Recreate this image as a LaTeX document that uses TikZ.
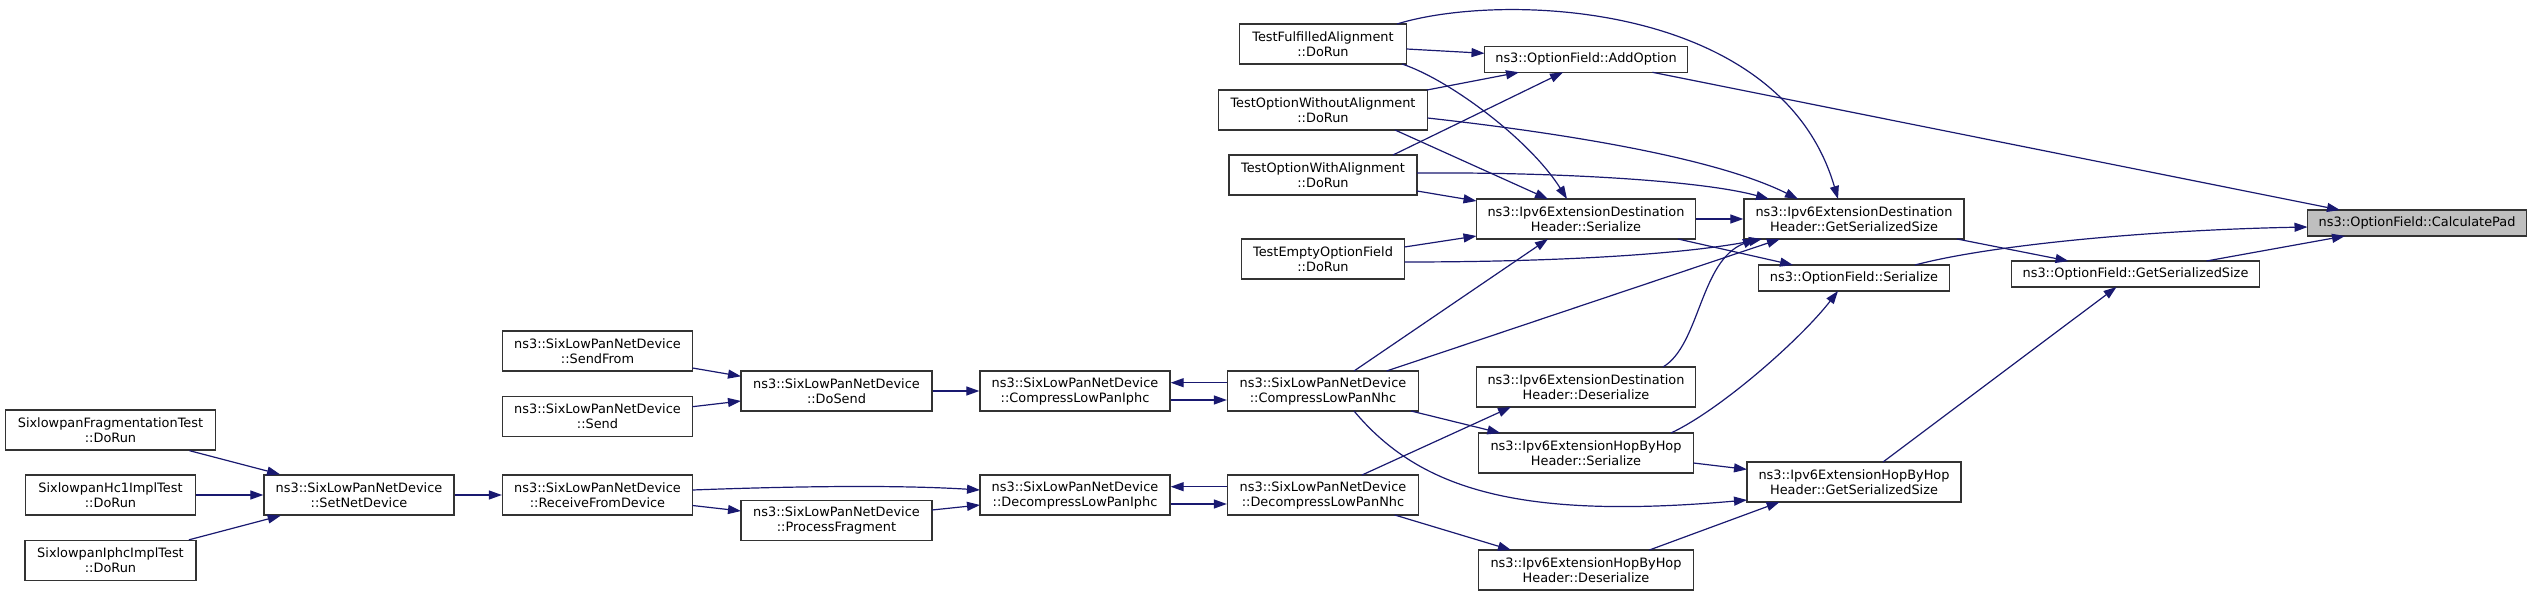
\documentclass[tikz,border=0pt]{standalone}
\usepackage{fontspec}
\setmainfont{DejaVu Sans}
\usetikzlibrary{arrows.meta,calc}
\definecolor{edgec}{RGB}{25,25,112}
\definecolor{padfill}{RGB}{191,191,191}
\begin{document}
\begin{tikzpicture}[x=1pt,y=-1pt,
  fn/.style={draw=black!80, line width=1.3pt, fill=white, inner sep=0pt, align=center,
    font=\fontsize{12.9}{15}\selectfont, minimum height=40pt},
  fn1/.style={fn, minimum height=26pt},
  edge/.style={draw=edgec, line width=1.2pt, -{Triangle[length=13pt,width=9pt]}},
]
\useasboundingbox (0,0) rectangle (2532,596);
% nodes
\node[fn, minimum width=167pt] (fdo) at (1323,44) {TestFulfilledAlignment\\::DoRun};
\node[fn1, minimum width=203pt] (addopt) at (1586,59.3) {ns3::OptionField::AddOption};
\node[fn, minimum width=209pt] (wodo) at (1323,110) {TestOptionWithoutAlignment\\::DoRun};
\node[fn, minimum width=188pt] (wado) at (1323,175) {TestOptionWithAlignment\\::DoRun};
\node[fn, minimum width=219pt] (dser) at (1586,219) {ns3::Ipv6ExtensionDestination\\Header::Serialize};
\node[fn, minimum width=163pt] (edo) at (1323,259) {TestEmptyOptionField\\::DoRun};
\node[fn, minimum width=220pt] (dgss) at (1854,219) {ns3::Ipv6ExtensionDestination\\Header::GetSerializedSize};
\node[fn1, minimum width=191pt] (ofser) at (1854,278) {ns3::OptionField::Serialize};
\node[fn1, minimum width=248pt] (ofgss) at (2135.5,274) {ns3::OptionField::GetSerializedSize};
\node[fn1, minimum width=219pt, fill=padfill] (calcpad) at (2417,223) {ns3::OptionField::CalculatePad};
\node[fn, minimum width=214pt] (hgss) at (1854,482) {ns3::Ipv6ExtensionHopByHop\\Header::GetSerializedSize};
\node[fn, minimum width=190pt] (cliphc) at (1075,391) {ns3::SixLowPanNetDevice\\::CompressLowPanIphc};
\node[fn, minimum width=191pt] (cnhc) at (1323,391) {ns3::SixLowPanNetDevice\\::CompressLowPanNhc};
\node[fn, minimum width=219pt] (ddeser) at (1586,387) {ns3::Ipv6ExtensionDestination\\Header::Deserialize};
\node[fn, minimum width=215pt] (hser) at (1586,453) {ns3::Ipv6ExtensionHopByHop\\Header::Serialize};
\node[fn, minimum width=190pt] (dliphc) at (1075,495) {ns3::SixLowPanNetDevice\\::DecompressLowPanIphc};
\node[fn, minimum width=191pt] (dlnhc) at (1323,495) {ns3::SixLowPanNetDevice\\::DecompressLowPanNhc};
\node[fn, minimum width=215pt] (hdeser) at (1586,570) {ns3::Ipv6ExtensionHopByHop\\Header::Deserialize};
\node[fn, minimum width=190pt] (sendfrom) at (597.5,351) {ns3::SixLowPanNetDevice\\::SendFrom};
\node[fn, minimum width=190pt] (send) at (597.5,416.5) {ns3::SixLowPanNetDevice\\::Send};
\node[fn, minimum width=191pt] (dosend) at (836.5,391) {ns3::SixLowPanNetDevice\\::DoSend};
\node[fn, minimum width=190pt] (recv) at (597.5,495) {ns3::SixLowPanNetDevice\\::ReceiveFromDevice};
\node[fn, minimum width=191pt] (procfrag) at (836.5,520.5) {ns3::SixLowPanNetDevice\\::ProcessFragment};
\node[fn, minimum width=190pt] (setnet) at (359,495) {ns3::SixLowPanNetDevice\\::SetNetDevice};
\node[fn, minimum width=210pt] (fragtest) at (110.5,430) {SixlowpanFragmentationTest\\::DoRun};
\node[fn, minimum width=170pt] (hc1) at (110.5,495) {SixlowpanHc1ImplTest\\::DoRun};
\node[fn, minimum width=171pt] (iphctest) at (110.5,560.5) {SixlowpanIphcImplTest\\::DoRun};
% edges into CalculatePad
\draw[edge] ($(addopt.center)+(66.5,13)$) -- ($(calcpad.center)+(-77,-13)$);
\draw[edge] ($(ofser.center)+(61,-13)$) .. controls (1990,245) and (2150,230) .. ($(calcpad.center)+(-109.5,4)$);
\draw[edge] ($(ofgss.center)+(71,-13)$) -- ($(calcpad.center)+(-72,13)$);
% into OptionField::GetSerializedSize
\draw[edge] ($(dgss.center)+(103,20)$) -- ($(ofgss.center)+(-67,-13)$);
\draw[edge] ($(hgss.center)+(29,-20)$) -- ($(ofgss.center)+(-19,13)$);
% into Destination GetSerializedSize
\draw[edge] ($(fdo.center)+(74,-20)$) .. controls (1500,-8) and (1780,0) .. ($(dgss.center)+(-16,-20)$);
\draw[edge] ($(wodo.center)+(104.5,8)$) .. controls (1580,135) and (1720,160) .. ($(dgss.center)+(-56,-20)$);
\draw[edge] ($(wado.center)+(94,-2)$) .. controls (1550,172) and (1700,180) .. ($(dgss.center)+(-85,-20)$);
\draw[edge] (dser.east) -- (dgss.west);
\draw[edge] ($(edo.center)+(81.5,3)$) .. controls (1550,262) and (1680,255) .. ($(dgss.center)+(-92,20)$);
\draw[edge] ($(cnhc.center)+(63.6,-20)$) -- ($(dgss.center)+(-74,20)$);
\draw[edge] ($(ddeser.center)+(77,-20)$) .. controls (1700,345) and (1700,260) .. ($(dgss.center)+(-98,20)$);
% into Destination Serialize
\draw[edge] ($(fdo.center)+(79,20)$) .. controls (1450,80) and (1530,140) .. ($(dser.center)+(-19,-20)$);
\draw[edge] ($(wodo.center)+(72,20)$) -- ($(dser.center)+(-38,-20)$);
\draw[edge] ($(wado.center)+(94,16)$) -- ($(dser.center)+(-109.5,-18)$);
\draw[edge] ($(edo.center)+(81.5,-12)$) -- ($(dser.center)+(-109.5,17)$);
\draw[edge] ($(cnhc.center)+(31,-20)$) -- ($(dser.center)+(-38,20)$);
% into AddOption
\draw[edge] ($(fdo.center)+(83.5,5)$) -- ($(addopt.center)+(-101.5,-6)$);
\draw[edge] ($(wodo.center)+(104,-20)$) -- ($(addopt.center)+(-67,13)$);
\draw[edge] ($(wado.center)+(70,-20)$) -- ($(addopt.center)+(-23,13)$);
% into OptionField::Serialize
\draw[edge] ($(dser.center)+(92,20)$) -- ($(ofser.center)+(-61,-13)$);
\draw[edge] ($(hser.center)+(85,-20)$) .. controls (1720,410) and (1800,340) .. ($(ofser.center)+(-16,13)$);
% into HopByHop GetSerializedSize
\draw[edge] ($(cnhc.center)+(31,20)$) .. controls (1420,490) and (1520,520) .. ($(hgss.center)+(-107,18)$);
\draw[edge] ($(hser.center)+(107.5,10)$) -- ($(hgss.center)+(-107,-12.6)$);
\draw[edge] ($(hdeser.center)+(63.4,-20)$) -- ($(hgss.center)+(-74.4,20)$);
% compress / decompress
\draw[edge] ($(cnhc.west)+(0,-8.3)$) -- ($(cliphc.east)+(0,-8.3)$);
\draw[edge] ($(cliphc.east)+(0,9)$) -- ($(cnhc.west)+(0,9)$);
\draw[edge] ($(dlnhc.west)+(0,-8.3)$) -- ($(dliphc.east)+(0,-8.3)$);
\draw[edge] ($(dliphc.east)+(0,9)$) -- ($(dlnhc.west)+(0,9)$);
\draw[edge] ($(dlnhc.center)+(39,-20)$) -- ($(ddeser.center)+(-75,20)$);
\draw[edge] ($(dlnhc.center)+(71.7,20)$) -- ($(hdeser.center)+(-75,-20)$);
\draw[edge] ($(cnhc.center)+(88,20)$) -- ($(hser.center)+(-85.6,-20)$);
\draw[edge] (dosend.east) -- (cliphc.west);
\draw[edge] ($(recv.center)+(95,-5)$) .. controls (800,486) and (900,485) .. ($(dliphc.center)+(-95,-5)$);
\draw[edge] ($(recv.center)+(95,10.5)$) -- ($(procfrag.center)+(-95.5,-9.5)$);
\draw[edge] ($(procfrag.center)+(95.5,-10.5)$) -- ($(dliphc.center)+(-95,10)$);
\draw[edge] ($(sendfrom.center)+(95,17)$) -- ($(dosend.center)+(-95.5,-14.7)$);
\draw[edge] ($(send.center)+(95,-9.8)$) -- ($(dosend.center)+(-95.5,10)$);
\draw[edge] (setnet.east) -- (recv.west);
\draw[edge] (fragtest) -- (setnet);
\draw[edge] (hc1) -- (setnet);
\draw[edge] (iphctest) -- (setnet);
\end{tikzpicture}
\end{document}
